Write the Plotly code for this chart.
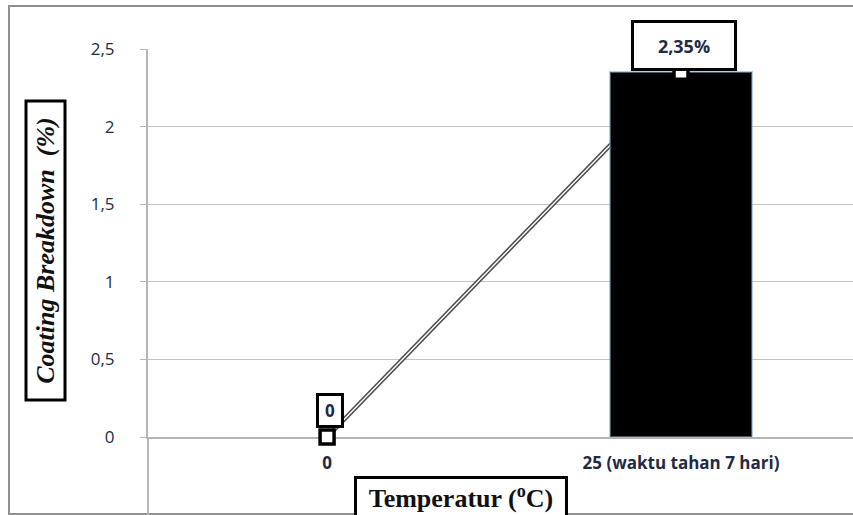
import plotly.graph_objects as go

# Data
temperatures = ["0", "25 (waktu tahan 7 hari)"]
breakdown_pct = [0, 2.35]
value_labels = ["0", "2,35%"]
y_tickvals = [0, 0.5, 1, 1.5, 2, 2.5]
y_ticktext = ["0", "0,5", "1", "1,5", "2", "2,5"]

# Canvas / plot-area geometry (pixels)
W, H = 853, 515
L, R, T, B = 148, 0, 49, 78
PW, PH = W - L - R, H - T - B


def paper_x(px):
    return (px - L) / PW


def paper_y(py):
    return (H - B - py) / PH


x_range = [-0.506, 1.486]
y_range = [0, 2.5]
navy = "#1f2a44"
grid = "#c4c4c4"

fig = go.Figure()

# Connecting line drawn as a double stroke (dark outer, white core)
fig.add_trace(go.Scatter(x=temperatures, y=breakdown_pct, mode="lines",
                         line=dict(color="#4d4d4d", width=4.5),
                         hoverinfo="skip", showlegend=False, cliponaxis=False,
                         xaxis="x", yaxis="y"))
fig.add_trace(go.Scatter(x=temperatures, y=breakdown_pct, mode="lines",
                         line=dict(color="white", width=1.4),
                         hoverinfo="skip", showlegend=False, cliponaxis=False,
                         xaxis="x", yaxis="y"))

# Bars on an overlaid layer so they hide the line
fig.add_trace(go.Bar(x=temperatures, y=breakdown_pct, width=0.4,
                     marker=dict(color="#000000",
                                 line=dict(color="rgba(130,160,205,0.55)",
                                           width=[0 if v == 0 else 2 for v in breakdown_pct])),
                     showlegend=False, xaxis="x2", yaxis="y2"))

# Square point markers on top
fig.add_trace(go.Scatter(x=temperatures, y=breakdown_pct, mode="markers",
                         marker=dict(symbol="square", size=14, color="white",
                                     line=dict(color="#000000", width=3.5)),
                         showlegend=False, cliponaxis=False, xaxis="x2", yaxis="y2"))

annotations = []
# Value labels in boxes
box_sizes = [(22, 29), (100, 45)]
y_shifts = [9, 1]
font_sizes = [17, 18]
for xv, yv, txt, (bw, bh), ys, fs in zip(temperatures, breakdown_pct, value_labels,
                                          box_sizes, y_shifts, font_sizes):
    annotations.append(dict(x=xv, y=yv, xref="x", yref="y", text=f"<b>{txt}</b>",
                            showarrow=False, xanchor="center", yanchor="bottom",
                            xshift=3, yshift=ys, width=bw, height=bh,
                            bgcolor="white", bordercolor="black", borderwidth=3, borderpad=0,
                            font=dict(family="Open Sans", size=fs, color=navy)))

# Axis titles in boxes
annotations.append(dict(x=paper_x(46), y=paper_y(250.5), xref="paper", yref="paper",
                        text="<b><i>Coating Breakdown  (%)</i></b>", textangle=-90,
                        showarrow=False, xanchor="center", yanchor="middle",
                        width=296, height=36, bgcolor="white",
                        bordercolor="black", borderwidth=3, borderpad=0,
                        font=dict(family="Liberation Serif", size=26, color="#111111")))
annotations.append(dict(x=paper_x(461), y=paper_y(497), xref="paper", yref="paper",
                        text="<b>Temperatur (<sup>o</sup>C)</b>",
                        showarrow=False, xanchor="center", yanchor="middle",
                        width=208, height=36, bgcolor="white",
                        bordercolor="black", borderwidth=3, borderpad=0,
                        font=dict(family="Liberation Serif", size=26, color="#111111")))

shapes = [
    # outer chart frame
    dict(type="rect", xref="paper", yref="paper",
         x0=paper_x(9), x1=paper_x(870), y0=paper_y(514), y1=paper_y(6),
         line=dict(color="#8f8f8f", width=2), layer="below"),
    # plot-area left edge continuing below the axis
    dict(type="line", xref="paper", yref="paper",
         x0=0, x1=0, y0=paper_y(515), y1=0,
         line=dict(color="#b5b5b5", width=2), layer="below"),
]

fig.update_layout(
    width=W, height=H,
    margin=dict(l=L, r=R, t=T, b=B),
    paper_bgcolor="white", plot_bgcolor="white",
    annotations=annotations, shapes=shapes,
    bargap=0,
    xaxis=dict(type="category", categoryorder="array", categoryarray=temperatures,
               range=x_range, showgrid=False, zeroline=False,
               showline=True, linecolor="#b5b5b5", linewidth=1.5, layer="below traces",
               ticks="", ticklabelstandoff=10,
               tickfont=dict(family="Open Sans", size=17, color=navy, weight="bold")),
    yaxis=dict(range=y_range, tickvals=y_tickvals, ticktext=y_ticktext,
               showgrid=True, gridcolor=grid, gridwidth=1, zeroline=False,
               showline=True, linecolor="#b5b5b5", linewidth=2, layer="below traces",
               ticks="outside", ticklen=6, tickcolor="#b5b5b5",
               ticklabelstandoff=22,
               tickfont=dict(family="Open Sans", size=17, color=navy)),
    xaxis2=dict(type="category", categoryorder="array", categoryarray=temperatures,
                range=x_range, overlaying="x", anchor="y2", visible=False),
    yaxis2=dict(range=y_range, overlaying="y", anchor="x2", visible=False),
)

fig.write_html("out.html")
